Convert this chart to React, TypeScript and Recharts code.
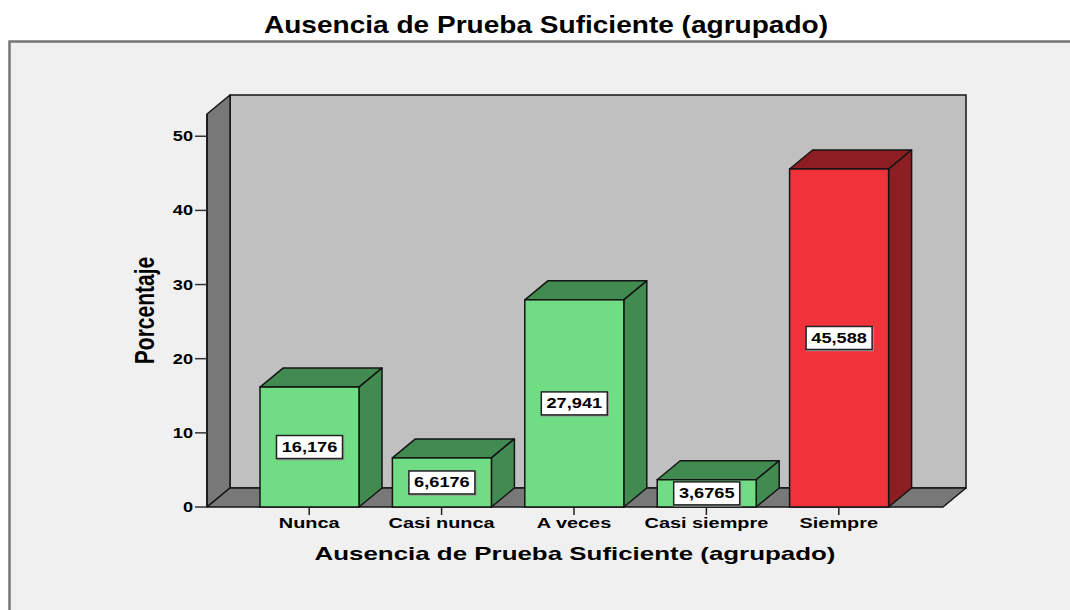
import { BarChart, Bar, XAxis, YAxis, Cell, LabelList } from 'recharts';

// data
const categories = ['Nunca', 'Casi nunca', 'A veces', 'Casi siempre', 'Siempre'];
const percentages = [16.176, 6.6176, 27.941, 3.6765, 45.588];
const yTicks = [0, 10, 20, 30, 40, 50];
const chartTitle = 'Ausencia de Prueba Suficiente (agrupado)';
const xTitle = 'Ausencia de Prueba Suficiente (agrupado)';
const yTitle = 'Porcentaje';

const data = categories.map((name, i) => ({ name, value: percentages[i] }));

// layout
const W = 1070;
const H = 610;
const margin = { top: 114, right: 127, bottom: 73, left: 147 };
const Y_AXIS_W = 60;
const X_AXIS_H = 30;
const Y_MAX = 53;
const DX = 23;
const DY = 19;
const plotL = margin.left + Y_AXIS_W;
const plotR = W - margin.right;
const plotT = margin.top;
const plotB = H - margin.bottom - X_AXIS_H;

const FONT = '"Liberation Sans", Arial, Helvetica, sans-serif';
const GREEN = '#70dc84';
const RED = '#f0323a';
const SHADE: Record<string, string> = { [GREEN]: '#418a50', [RED]: '#8c1e23' };
const barColors = [GREEN, GREEN, GREEN, GREEN, RED];
const EDGE = '#141414';

const fmt = (v: number) => String(v).replace('.', ',');

function Bar3D(props: any) {
  const { x, y, width, height, fill } = props;
  const dark = SHADE[fill] || '#418a50';
  const r = x + width;
  const b = y + height;
  return (
    <g>
      <polygon
        points={`${x},${y} ${x + DX},${y - DY} ${r + DX},${y - DY} ${r},${y}`}
        fill={dark}
        stroke={EDGE}
        strokeWidth={1.5}
        strokeLinejoin="round"
      />
      <polygon
        points={`${r},${y} ${r + DX},${y - DY} ${r + DX},${b - DY} ${r},${b}`}
        fill={dark}
        stroke={EDGE}
        strokeWidth={1.5}
        strokeLinejoin="round"
      />
      <rect x={x} y={y} width={width} height={height} fill={fill} stroke={EDGE} strokeWidth={1.5} />
    </g>
  );
}

function ValueBox(props: any) {
  const { x, y, width, height, value } = props;
  const cx = x + width / 2;
  const cy = y + height / 2;
  const bw = 66;
  const bh = 23;
  return (
    <g>
      <rect x={cx - bw / 2 + 1} y={cy - bh / 2 + 1} width={bw} height={bh} fill="none" stroke="#9a9a9a" strokeWidth={1.5} />
      <rect x={cx - bw / 2} y={cy - bh / 2} width={bw} height={bh} fill="#ffffff" stroke="#222" strokeWidth={1.5} />
      <text
        transform={`translate(${cx},${cy + 5}) scale(1.3,1)`}
        textAnchor="middle"
        fontFamily={FONT}
        fontWeight="bold"
        fontSize={14}
        fill="#000"
      >
        {fmt(Number(value))}
      </text>
    </g>
  );
}

function YTick(props: any) {
  const { x, y, payload } = props;
  return (
    <text
      transform={`translate(${x},${y + 5}) scale(1.3,1)`}
      textAnchor="end"
      fontFamily={FONT}
      fontWeight="bold"
      fontSize={14}
      fill="#000"
    >
      {payload.value}
    </text>
  );
}

function XTick(props: any) {
  const { x, y, payload } = props;
  return (
    <g>
      <line x1={x} x2={x} y1={y} y2={y + 8} stroke="#222" strokeWidth={1.5} />
      <text
        transform={`translate(${x},${y + 21}) scale(1.42,1)`}
        textAnchor="middle"
        fontFamily={FONT}
        fontWeight="bold"
        fontSize={14}
        fill="#000"
      >
        {payload.value}
      </text>
    </g>
  );
}

function XTitle(props: any) {
  const vb = props.viewBox || {};
  const cx = vb.x + vb.width / 2;
  return (
    <text
      transform={`translate(${cx},${vb.y + 53}) scale(1.44,1)`}
      textAnchor="middle"
      fontFamily={FONT}
      fontWeight="bold"
      fontSize={18}
      fill="#000"
    >
      {xTitle}
    </text>
  );
}

function YTitle(props: any) {
  const vb = props.viewBox || {};
  const cy = vb.y + vb.height / 2;
  return (
    <text
      transform={`translate(${vb.x + 7},${cy}) rotate(-90) scale(1.05,1.4)`}
      textAnchor="middle"
      fontFamily={FONT}
      fontWeight="bold"
      fontSize={20}
      fill="#000"
    >
      {yTitle}
    </text>
  );
}

// frame, title and the 3D walls behind the chart
function Backdrop() {
  return (
    <svg width={W} height={H} style={{ position: 'absolute', left: 0, top: 0 }}>
      <rect x={0} y={0} width={W} height={H} fill="#ffffff" />
      <rect x={9.5} y={41.5} width={W + 40} height={H + 40} fill="#f0f0f0" stroke="#767676" strokeWidth={2.5} />
      <text
        transform={`translate(546,33) scale(1.22,1)`}
        textAnchor="middle"
        fontFamily={FONT}
        fontWeight="bold"
        fontSize={23}
        fill="#000"
      >
        {chartTitle}
      </text>
      {/* back wall */}
      <rect x={plotL + DX} y={plotT - DY} width={plotR - plotL} height={plotB - plotT} fill="#c0c0c0" stroke={EDGE} strokeWidth={1.5} />
      {/* left wall */}
      <polygon
        points={`${plotL},${plotT} ${plotL + DX},${plotT - DY} ${plotL + DX},${plotB - DY} ${plotL},${plotB}`}
        fill="#787878"
        stroke={EDGE}
        strokeWidth={1.5}
        strokeLinejoin="round"
      />
      {/* floor */}
      <polygon
        points={`${plotL},${plotB} ${plotL + DX},${plotB - DY} ${plotR + DX},${plotB - DY} ${plotR},${plotB}`}
        fill="#787878"
        stroke={EDGE}
        strokeWidth={1.5}
        strokeLinejoin="round"
      />
    </svg>
  );
}

export default function App() {
  return (
    <div style={{ position: 'fixed', left: 0, top: 0, width: W, height: H, overflow: 'hidden' }}>
      <Backdrop />
      <div style={{ position: 'absolute', left: 0, top: 0 }}>
        <BarChart width={W} height={H} data={data} margin={margin}>
          <XAxis
            dataKey="name"
            height={X_AXIS_H}
            padding={{ left: 36, right: 38 }}
            axisLine={false}
            tickLine={false}
            tickSize={0}
            tickMargin={0}
            interval={0}
            tick={<XTick />}
            label={<XTitle />}
          />
          <YAxis
            width={Y_AXIS_W}
            domain={[0, Y_MAX]}
            ticks={yTicks}
            axisLine={{ stroke: EDGE, strokeWidth: 1.5 }}
            tickLine={{ stroke: '#333', strokeWidth: 1.5 }}
            tickSize={12}
            tickMargin={2}
            tick={<YTick />}
            label={<YTitle />}
          />
          <Bar dataKey="value" barSize={99} shape={<Bar3D />} isAnimationActive={false}>
            {data.map((d, i) => (
              <Cell key={d.name} fill={barColors[i]} />
            ))}
            <LabelList dataKey="value" content={<ValueBox />} />
          </Bar>
        </BarChart>
      </div>
    </div>
  );
}
